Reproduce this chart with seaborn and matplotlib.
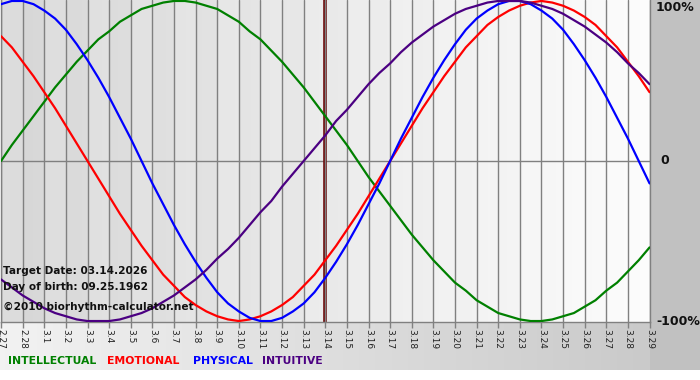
import numpy as np
import pandas as pd
import matplotlib.pyplot as plt
import seaborn as sns

# day labels along the bottom axis (month.day)
day_labels = ["2.27", "2.28", "3.1", "3.2", "3.3", "3.4", "3.5", "3.6", "3.7", "3.8",
              "3.9", "3.10", "3.11", "3.12", "3.13", "3.14", "3.15", "3.16", "3.17",
              "3.18", "3.19", "3.20", "3.21", "3.22", "3.23", "3.24", "3.25", "3.26",
              "3.27", "3.28", "3.29"]

# readings every half day, from 2.27 (0) to 3.29 (30)
sample_days = np.arange(0, 30.5, 0.5)

# cycle values (-1 .. 1)
intellectual = [0.00, 0.10, 0.19, 0.28, 0.37, 0.46, 0.54, 0.62, 0.69, 0.76, 0.81,
                0.87, 0.91, 0.95, 0.97, 0.99, 1.00, 1.00, 0.99, 0.97, 0.95, 0.91,
                0.87, 0.81, 0.76, 0.69, 0.62, 0.54, 0.46, 0.37, 0.28, 0.19, 0.10,
                0.00, -0.10, -0.19, -0.28, -0.37, -0.46, -0.54, -0.62, -0.69, -0.76,
                -0.81, -0.87, -0.91, -0.95, -0.97, -0.99, -1.00, -1.00, -0.99, -0.97,
                -0.95, -0.91, -0.87, -0.81, -0.76, -0.69, -0.62, -0.54]
emotional = [0.78, 0.71, 0.62, 0.53, 0.43, 0.33, 0.22, 0.11, 0.00, -0.11, -0.22,
             -0.33, -0.43, -0.53, -0.62, -0.71, -0.78, -0.85, -0.90, -0.94, -0.97,
             -0.99, -1.00, -0.99, -0.97, -0.94, -0.90, -0.85, -0.78, -0.71, -0.62,
             -0.53, -0.43, -0.33, -0.22, -0.11, 0.00, 0.11, 0.22, 0.33, 0.43, 0.53,
             0.62, 0.71, 0.78, 0.85, 0.90, 0.94, 0.97, 0.99, 1.00, 0.99, 0.97, 0.94,
             0.90, 0.85, 0.78, 0.71, 0.62, 0.53, 0.43]
physical = [0.98, 1.00, 1.00, 0.98, 0.94, 0.89, 0.82, 0.73, 0.63, 0.52, 0.40, 0.27,
            0.14, 0.00, -0.14, -0.27, -0.40, -0.52, -0.63, -0.73, -0.82, -0.89,
            -0.94, -0.98, -1.00, -1.00, -0.98, -0.94, -0.89, -0.82, -0.73, -0.63,
            -0.52, -0.40, -0.27, -0.14, 0.00, 0.14, 0.27, 0.40, 0.52, 0.63, 0.73,
            0.82, 0.89, 0.94, 0.98, 1.00, 1.00, 0.98, 0.94, 0.89, 0.82, 0.73, 0.63,
            0.52, 0.40, 0.27, 0.14, 0.00, -0.14]
intuitive = [-0.74, -0.79, -0.84, -0.88, -0.92, -0.95, -0.97, -0.99, -1.00, -1.00,
             -1.00, -0.99, -0.97, -0.95, -0.92, -0.88, -0.84, -0.79, -0.74, -0.68,
             -0.61, -0.55, -0.48, -0.40, -0.32, -0.25, -0.16, -0.08, 0.00, 0.08,
             0.16, 0.25, 0.32, 0.40, 0.48, 0.55, 0.61, 0.68, 0.74, 0.79, 0.84, 0.88,
             0.92, 0.95, 0.97, 0.99, 1.00, 1.00, 1.00, 0.99, 0.97, 0.95, 0.92, 0.88,
             0.84, 0.79, 0.74, 0.68, 0.61, 0.55, 0.48]

cycle_names = ["INTELLECTUAL", "EMOTIONAL", "PHYSICAL", "INTUITIVE"]
cycle_colors = {"INTELLECTUAL": "#008000", "EMOTIONAL": "#ff0000",
                "PHYSICAL": "#0000ff", "INTUITIVE": "#4b0082"}
target_label = "3.14"

rows = []
for name, vals in zip(cycle_names, [intellectual, emotional, physical, intuitive]):
    for d, v in zip(sample_days, vals):
        rows.append({"day": d, "value": v, "cycle": name})
df = pd.DataFrame(rows)

sns.set_theme(style="white")
plt.rcParams['font.family'] = ['DejaVu Sans']

W, H = 700, 380
fig = plt.figure(figsize=(7, 3.8), dpi=100)

# figure background: bottom strip gradient + grey panel on the right
bg = fig.add_axes([0, 0, 1, 1], zorder=-10)
img = np.ones((H, W, 3))
grad = np.linspace(0.95, 0.78, W)[None, :, None]
img[322:370, :, :] = grad
img[0:370, 650:, :] = 0.76
bg.imshow(img, aspect='auto', extent=[0, W, H, 0])
bg.set_xlim(0, W)
bg.set_ylim(H, 0)
bg.axis('off')

ax = fig.add_axes([0.0015, 58 / H, 648.5 / W, 322 / H])
ax.patch.set_alpha(0)
n = len(day_labels) - 1
ymin, ymax = -1.006, 1.006

# plot area gradient from grey (left) to white (right)
pg = np.linspace(0.84, 0.99, 200)[None, :]
ax.imshow(np.dstack([pg, pg, pg]), aspect='auto', extent=[0, n, ymin, ymax], zorder=0)
for i in range(0, n, 2):
    ax.axvspan(i, i + 1, color='white', alpha=0.15, lw=0, zorder=0.5)

sns.lineplot(data=df, x="day", y="value", hue="cycle", palette=cycle_colors,
             hue_order=cycle_names, linewidth=1.6, legend=False, ax=ax, zorder=3)

ax.axhline(0, color='#808080', lw=1, zorder=1)
ax.axvline(day_labels.index(target_label), color='#6e0a0a', lw=2.6, zorder=2.5)

ax.set_xlim(0, n)
ax.set_ylim(ymin, ymax)
ax.set_xticks(range(len(day_labels)))
ax.set_xticklabels(day_labels, rotation=-90, fontsize=6.5, color='#222222')
ax.set_yticks([])
ax.grid(axis='x', color='#808080', lw=1, zorder=1)
ax.set_axisbelow(False)
ax.tick_params(axis='x', bottom=True, length=4, width=1, color='#808080', pad=1)
ax.set_xlabel("")
ax.set_ylabel("")
for side in ["left", "bottom", "right"]:
    ax.spines[side].set_color('#808080')
    ax.spines[side].set_linewidth(1)
ax.spines["top"].set_visible(False)

# right-hand percentage labels
lab = ax.get_yaxis_transform()
ax.text(1.01, 0.96, "100%", transform=lab, fontsize=9, fontweight='bold',
        va='center', ha='left', color='#111111', clip_on=False)
ax.text(1.017, 0.0, "0", transform=lab, fontsize=9, fontweight='bold',
        va='center', ha='left', color='#111111', clip_on=False)
ax.text(1.01, -1.0, "-100%", transform=lab, fontsize=9, fontweight='bold',
        va='center', ha='left', color='#111111', clip_on=False)

# info texts inside the plot
for txt, ypx in [("Target Date: 03.14.2026", 271), ("Day of birth: 09.25.1962", 287),
                 ("\u00a92010 biorhythm-calculator.net", 307)]:
    fig.text(3 / W, 1 - ypx / H, txt, fontsize=7.6, fontweight='bold',
             color='#111111', ha='left', va='center')

# coloured legend words
for name, xpx in zip(cycle_names, [8, 107, 193, 262]):
    fig.text(xpx / W, 1 - 361 / H, name, fontsize=7.8, fontweight='bold',
             color=cycle_colors[name], ha='left', va='center')

fig.savefig("out.png", dpi=100)
